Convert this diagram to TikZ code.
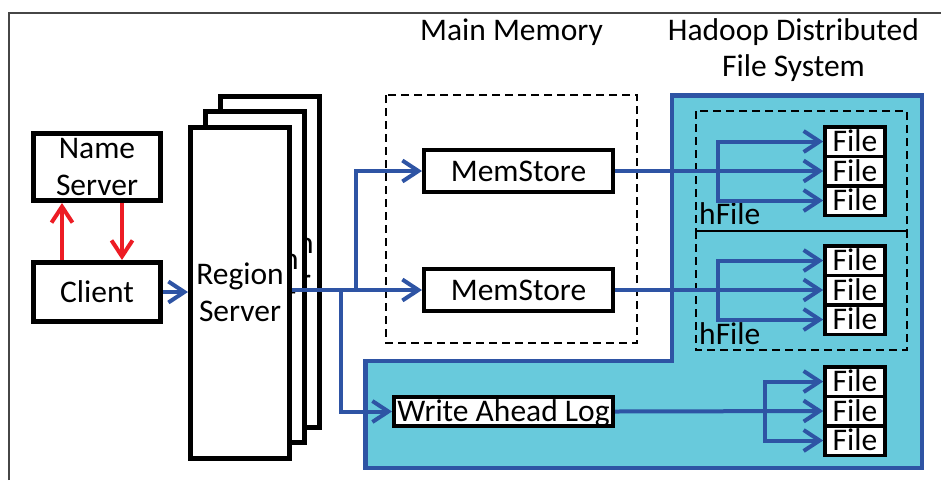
\documentclass[tikz,border=0pt]{standalone}
\usepackage{fontspec}
\setmainfont{Carlito}
\usetikzlibrary{arrows.meta}
\definecolor{hblue}{RGB}{46,84,164}
\definecolor{hcyan}{RGB}{104,202,220}
\definecolor{hred}{RGB}{237,28,36}
\definecolor{framegray}{RGB}{70,70,70}

\begin{document}
\begin{tikzpicture}[x=1pt,y=-1pt,
  every node/.style={font=\fontsize{31.5}{37}\selectfont, inner sep=0pt},
  box/.style={draw=black, fill=white, line width=5pt, align=center},
  sbox/.style={draw=black, fill=white, line width=4pt, text height=20pt, text depth=0pt},
  filebox/.style={draw=black, fill=white, line width=3.5pt, minimum width=60pt,
                  minimum height=29.5pt, text height=20pt, text depth=0pt},
  flow/.style={draw=hblue, line width=4pt},
  tip/.style={-{Straight Barb[length=16pt,width=21pt]}},
  redflow/.style={draw=hred, line width=4pt, -{Straight Barb[length=16pt,width=21pt]}},
  memline/.style={draw=black, line width=1.8pt, dash pattern=on 8pt off 5pt}
]
\fill[white] (0,0) rectangle (941,480);
\useasboundingbox (0,0) rectangle (941,480);

% outer frame
\draw[framegray, line width=1.4pt] (9,480) -- (9,13) -- (941,13);

% HDFS area
\draw[hblue, fill=hcyan, line width=4.5pt, line join=miter]
  (672,95.5) -- (922,95.5) -- (922,468) -- (365.5,468) -- (365.5,361) -- (672,361) -- cycle;

% main memory and hFile groups
\draw[memline] (386,95) rectangle (637,343);
\draw[memline] (696,111) rectangle (907,231);
\draw[memline] (696,231) rectangle (907,350);

% headings
\node[anchor=base] (mmlabel) at (511.5,40) {Main Memory};
\node[anchor=base] (hdfsA) at (793.5,40) {Hadoop Distributed};
\node[anchor=base] (hdfsB) at (793.5,76) {File System};
\node[anchor=base west] (hf1) at (699,224) {hFile};
\node[anchor=base west] (hf2) at (699,344) {hFile};

% client side
\node[box, minimum width=127pt, minimum height=67pt] (ns) at (97,167) {Name\\Server};
\node[box, minimum width=127pt, minimum height=59pt, text height=20pt, text depth=0pt] (client) at (97,292) {Client};

% stacked region servers
\node[box, minimum width=99pt, minimum height=331pt] (rsC) at (270,261.5) {Region\\Server};
\node[box, minimum width=99pt, minimum height=331pt] (rsB) at (255,277) {Region\\Server};
\node[box, minimum width=99pt, minimum height=331pt] (rsA) at (240,292.5) {Region\\Server};

% memstores and log
\node[sbox, minimum width=189pt, minimum height=42pt] (ms1) at (518.5,171) {MemStore};
\node[sbox, minimum width=189pt, minimum height=42pt] (ms2) at (518.5,290) {MemStore};
\node[sbox, minimum width=219pt, minimum height=29pt] (wal) at (503.5,411.5) {Write Ahead Log};

% files
\foreach \g/\y in {1/171, 2/290, 3/411}{
  \node[filebox] (fa\g) at (855,\y-29.5) {File};
  \node[filebox] (fb\g) at (855,\y) {File};
  \node[filebox] (fc\g) at (855,\y+29.5) {File};
}

% connectors
\draw[redflow] (client.north -| 62,0) -- (ns.south -| 62,0);
\draw[redflow] (ns.south -| 122,0) -- (client.north -| 122,0);
\draw[flow,tip] (client.east) -- (client.east -| rsA.west);

\draw[flow,tip] (rsA.east |- ms2.west) -- (ms2.west);
\draw[flow,tip] (ms2.west -| 356,0) |- (ms1.west);
\draw[flow,tip] (ms2.west -| 341,0) |- (wal.west);

\draw[flow,tip] (ms1.east) -- (fb1.west);
\draw[flow,tip] (ms1.east -| 718,0) |- (fa1.west);
\draw[flow,tip] (ms1.east -| 718,0) |- (fc1.west);

\draw[flow,tip] (ms2.east) -- (fb2.west);
\draw[flow,tip] (ms2.east -| 718,0) |- (fa2.west);
\draw[flow,tip] (ms2.east -| 718,0) |- (fc2.west);

\draw[flow,tip] (wal.east) -- (fb3.west);
\draw[flow,tip] (wal.east -| 765,0) |- (fa3.west);
\draw[flow,tip] (wal.east -| 765,0) |- (fc3.west);
\end{tikzpicture}
\end{document}
